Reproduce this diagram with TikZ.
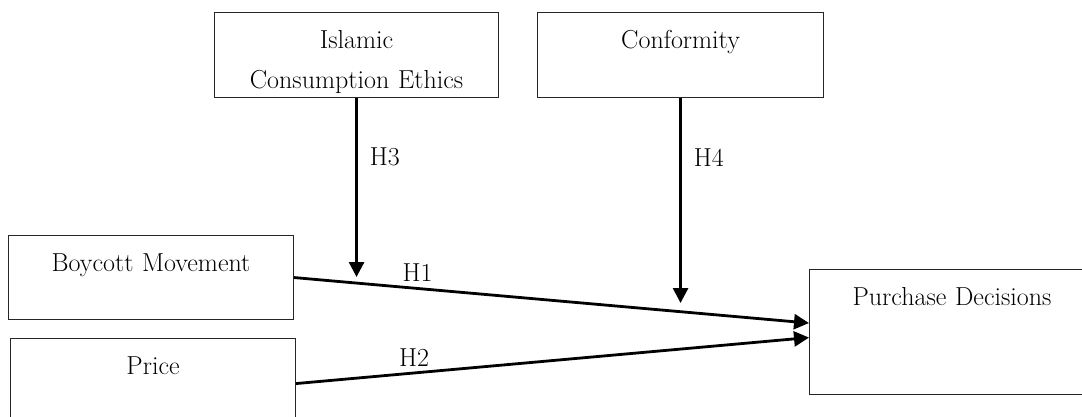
\documentclass[tikz,border=0pt]{standalone}
\usepackage{fontspec}
\usetikzlibrary{arrows.meta}
\tikzset{construct/.style 2 args={draw=black!85, line width=1.1pt, anchor=north west, align=center, inner sep=0pt, text width=#1, text height=36pt, text depth=#2, font=\fontsize{26}{40}\selectfont}}
\tikzset{hyp/.style={line width=2.8pt, -{Triangle[length=15pt,width=15pt]}}}
\tikzset{hlabel/.style={inner sep=2pt, font=\fontsize{26}{30}\selectfont}}

\begin{document}
\begin{tikzpicture}[x=1pt,y=-1pt]
\useasboundingbox (0,0) rectangle (1082,416);
{
\node[construct={284pt}{49pt}] (ice) at (214,12) {Islamic\\Consumption Ethics};
\node[construct={286pt}{49pt}] (conf) at (537,12) {Conformity};
\node[construct={285pt}{48pt}] (boy) at (8,235) {Boycott Movement};
\node[construct={285pt}{54pt}] (price) at (10,338) {Price};
\node[construct={285pt}{89pt}] (pd) at (809,269) {Purchase Decisions};
\coordinate (m3) at (356,277);
\coordinate (m4) at (680,303);
\draw[hyp] (ice.south) -- node[hlabel, pos=0.33, right=10pt] {H3} (ice.south |- m3);
\draw[hyp] (conf.south) -- node[hlabel, pos=0.29, right=10pt] {H4} (conf.south |- m4);
\draw[hyp] (boy.east) -- node[hlabel, pos=0.24, above=4pt] {H1} ([yshift=9pt]pd.west);
\draw[hyp] (price.east) -- node[hlabel, pos=0.23, above=3pt] {H2} ([yshift=-5.5pt]pd.west);
}
\end{tikzpicture}
\end{document}
